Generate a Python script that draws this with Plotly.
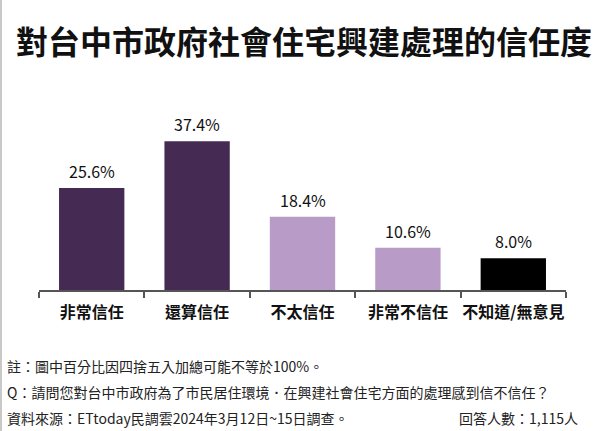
import plotly.graph_objects as go

categories = ["非常信任", "還算信任", "不太信任", "非常不信任", "不知道/無意見"]
values = [25.6, 37.4, 18.4, 10.6, 8.0]
labels = ["25.6%", "37.4%", "18.4%", "10.6%", "8.0%"]
colors = ["#452b53", "#452b53", "#b89bc6", "#b89bc6", "#000000"]

title = "對台中市政府社會住宅興建處理的信任度"
notes = [
    "註：圖中百分比因四捨五入加總可能不等於100%。",
    "Q：請問您對台中市政府為了市民居住環境．在興建社會住宅方面的處理感到信不信任？",
    "資料來源：ETtoday民調雲2024年3月12日~15日調查。",
]
respondents = "回答人數：1,115人"

FONT = "Noto Sans CJK TC"

fig = go.Figure()
fig.add_trace(go.Bar(
    x=categories, y=values, marker=dict(color=colors, line=dict(width=0)),
    width=0.62, hoverinfo="skip",
))

def py(ypix):
    # pixel y -> paper coordinate (plot area top=80, bottom=290)
    return (290 - ypix) / 210.0

def px(xpix):
    return (xpix - 39) / 527.0

anns = []
for c, v, t in zip(categories, values, labels):
    anns.append(go.layout.Annotation(x=c, y=v, text=t, showarrow=False, yanchor="bottom",
                                     yshift=3, font=dict(family=FONT, size=16, color="#111")))

anns.append(go.layout.Annotation(x=px(304), y=py(40), xref="paper", yref="paper",
                                 text=f"<b>{title}</b>", showarrow=False,
                                 font=dict(family=FONT, size=32, color="#111"),
                                 xanchor="center", yanchor="middle"))
ys = [366, 392, 418]
for t, yy in zip(notes, ys):
    anns.append(go.layout.Annotation(x=px(5), y=py(yy), xref="paper", yref="paper",
                                     text=t, showarrow=False, xanchor="left", yanchor="middle",
                                     font=dict(family=FONT, size=14, color="#222")))
anns.append(go.layout.Annotation(x=px(580), y=py(418), xref="paper", yref="paper",
                                 text=respondents, showarrow=False, xanchor="right", yanchor="middle",
                                 font=dict(family=FONT, size=14, color="#222")))

fig.update_layout(
    annotations=anns,
    width=600, height=431,
    margin=dict(l=39, r=34, t=80, b=141),
    paper_bgcolor="white", plot_bgcolor="white",
    showlegend=False,
    xaxis=dict(
        range=[-0.5, 4.5], showline=True, linecolor="#555", linewidth=1.5,
        ticks="outside", tickson="boundaries", ticklen=6, tickcolor="#555", tickwidth=1.5,
        tickfont=dict(family=FONT, size=16, color="#111"),
        tickvals=categories, ticktext=[f"<b>{c}</b>" for c in categories],
        tickangle=0, automargin=False,
        ticklabelstandoff=7,
        showgrid=False, zeroline=False, fixedrange=True,
    ),
    yaxis=dict(range=[0, 210 / 3.98], visible=False, showgrid=False, zeroline=False, fixedrange=True),
    shapes=[dict(type="line", xref="paper", yref="paper", x0=px(1), x1=px(1),
                 y0=py(0), y1=py(431), line=dict(color="#c8c8c8", width=2))],
)

fig.write_html("out.html")
